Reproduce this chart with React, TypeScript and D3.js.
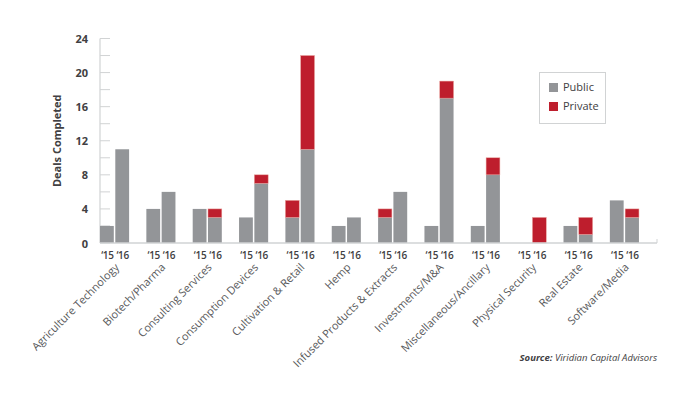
import React from "react";
import * as d3 from "d3";

const categories = [
  "Agriculture Technology",
  "Biotech/Pharma",
  "Consulting Services",
  "Consumption Devices",
  "Cultivation & Retail",
  "Hemp",
  "Infused Products & Extracts",
  "Investments/M&A",
  "Miscellaneous/Ancillary",
  "Physical Security",
  "Real Estate",
  "Software/Media",
];
const years = ["‘15", "‘16"];
const public15 = [2, 4, 4, 3, 3, 2, 3, 2, 2, 0, 2, 5];
const private15 = [0, 0, 0, 0, 2, 0, 1, 0, 0, 0, 0, 0];
const public16 = [11, 6, 3, 7, 11, 3, 6, 17, 8, 0, 1, 3];
const private16 = [0, 0, 1, 1, 11, 0, 0, 2, 2, 3, 2, 1];
const yTicks = [0, 4, 8, 12, 16, 20, 24];

const GRAY = "#939598";
const RED = "#be1e2d";
const TEXT = "#58595b";
const FONT = "'Open Sans', sans-serif";

const App = () => {
  const width = 690;
  const height = 396;
  const left = 100;
  const step = 46.35;
  const barW = 13.8;
  const gap = 1.5;

  const x = d3
    .scaleBand()
    .domain(categories)
    .range([left, left + step * categories.length])
    .padding(0);
  const y = d3.scaleLinear().domain([0, 24]).range([243, 38.5]);
  const minor = d3.range(0, 25, 2);

  const series = [
    { pub: public15, priv: private15, off: 0 },
    { pub: public16, priv: private16, off: barW + gap },
  ];

  return (
    <svg
      width={width}
      height={height}
      style={{ position: "absolute", left: 0, top: 0 }}
      fontFamily={FONT}
    >
      <rect width={width} height={height} fill="#fff" />
      {/* y axis */}
      <line x1={left} x2={left} y1={y(24)} y2={y(0)} stroke="#d1d3d4" strokeWidth={1.2} />
      {minor.map((t) => (
        <line key={t} x1={left} x2={left + 10} y1={y(t)} y2={y(t)} stroke="#d1d3d4" strokeWidth={1} />
      ))}
      {yTicks.map((t) => (
        <text
          key={t}
          x={88}
          y={y(t)}
          textAnchor="end"
          dominantBaseline="central"
          fontSize={11}
          fontWeight="bold"
          fill="#414042"
        >
          {t}
        </text>
      ))}
      <text
        transform={`translate(61 ${(y(0) + y(24)) / 2}) rotate(-90)`}
        textAnchor="middle"
        fontSize={11}
        fontWeight="bold"
        fill="#414042"
      >
        Deals Completed
      </text>

      {/* bars */}
      {categories.map((c, i) => (
        <g key={c}>
          {series.map((s, j) => {
            const bx = (x(c) as number) + s.off;
            const p = s.pub[i];
            const q = s.priv[i];
            return (
              <g key={j}>
                {p > 0 && (
                  <rect x={bx} y={y(p)} width={barW} height={y(0) - y(p)} fill={GRAY} />
                )}
                {q > 0 && (
                  <rect
                    x={bx}
                    y={y(p + q)}
                    width={barW}
                    height={y(p) - y(p + q)}
                    fill={RED}
                    stroke="#e8a09a"
                    strokeWidth={0.5}
                  />
                )}
                <text
                  x={bx + barW / 2 + 0.5}
                  y={259}
                  textAnchor="middle"
                  fontSize={10}
                  fontWeight={600}
                  letterSpacing={-0.3}
                  fill="#414042"
                >
                  {years[j]}
                </text>
              </g>
            );
          })}
          <text
            transform={`translate(${(x(c) as number) + barW + 6} 268) rotate(-45)`}
            textAnchor="end"
            fontSize={11}
            fill={TEXT}
          >
            {c}
          </text>
        </g>
      ))}

      {/* baseline */}
      <line x1={left} x2={657} y1={y(0)} y2={y(0)} stroke="#d1d3d4" strokeWidth={1.5} />
      <line x1={657} x2={657} y1={y(0) - 4} y2={y(0)} stroke="#d1d3d4" strokeWidth={1} />

      {/* legend */}
      <rect x={539.5} y={72.5} width={66} height={51} fill="#fff" stroke="#d1d3d4" />
      <rect x={549} y={83} width={9} height={9} fill={GRAY} />
      <text x={563} y={91} fontSize={11} fill="#414042">Public</text>
      <rect x={549} y={102} width={9} height={9} fill={RED} />
      <text x={563} y={110} fontSize={11} fill="#414042">Private</text>

      {/* source */}
      <text x={657} y={361} textAnchor="end" fontSize={9.5} fontStyle="italic" fill="#414042">
        <tspan fontWeight="bold">Source:</tspan> Viridian Capital Advisors
      </text>
    </svg>
  );
};

export default App;
